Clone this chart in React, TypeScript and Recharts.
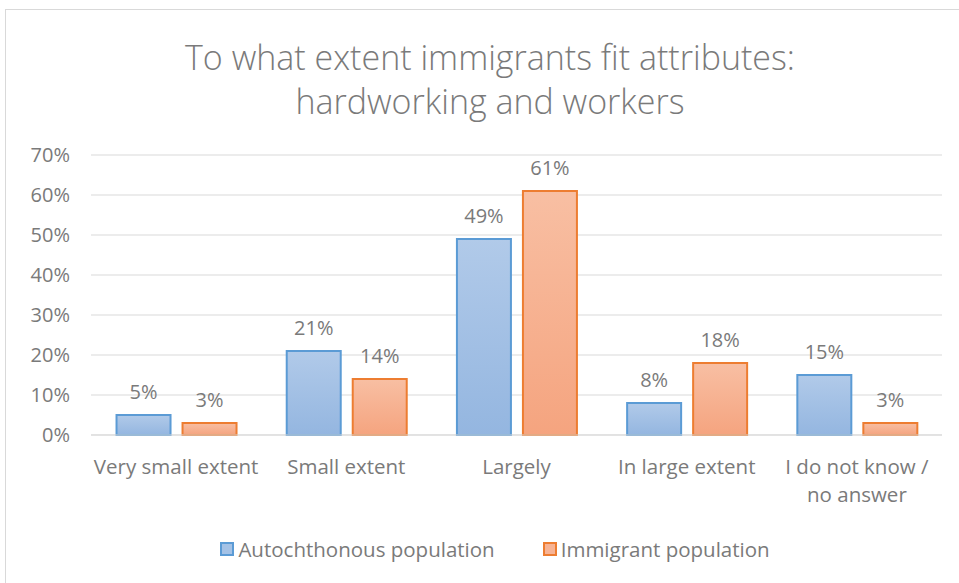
import React from "react";
import { BarChart, Bar, XAxis, YAxis, CartesianGrid, LabelList } from "recharts";

const categories = ["Very small extent", "Small extent", "Largely", "In large extent", "I do not know /\nno answer"];
const autochthonous = [5, 21, 49, 8, 15];
const immigrant = [3, 14, 61, 18, 3];
const yTicks = [0, 10, 20, 30, 40, 50, 60, 70];

const seriesNames = ["Autochthonous population", "Immigrant population"];

const data = categories.map((name, i) => ({
  name,
  auto: autochthonous[i],
  immi: immigrant[i],
}));

const FONT = "'Open Sans', sans-serif";
const TEXT = "#7a7a7a";

// x-axis tick that honours line breaks in the category names
const CategoryTick = (props: any) => {
  const { x, y, payload } = props;
  const lines = String(payload.value).split("\n");
  return (
    <g transform={`translate(${x},${y})`}>
      {lines.map((l, i) => (
        <text key={i} x={0} y={i * 28} dy={31} textAnchor="middle" fill={TEXT} fontSize={20.5} fontFamily={FONT}>
          {l}
        </text>
      ))}
    </g>
  );
};

const LegendBox = () => (
  <div style={{ position: "absolute", left: 0, top: 535, width: 990, display: "flex", justifyContent: "center", gap: 48, fontFamily: FONT, fontSize: 20.5, color: TEXT }}>
    <span style={{ display: "flex", alignItems: "center" }}>
      <span style={{ width: 10, height: 10, background: "#a4c2e6", border: "2px solid #5b9bd5", marginRight: 4 }} />
      {seriesNames[0]}
    </span>
    <span style={{ display: "flex", alignItems: "center" }}>
      <span style={{ width: 10, height: 10, background: "#f7b394", border: "2px solid #ed7d31", marginRight: 4 }} />
      {seriesNames[1]}
    </span>
  </div>
);

export default function App() {
  return (
    <div style={{ position: "absolute", left: 0, top: 0, width: 959, height: 583, background: "#fff", overflow: "hidden" }}>
      <div style={{ position: "absolute", left: 5, top: 9, width: 960, height: 600, border: "1px solid #d9d9d9", boxSizing: "border-box" }} />
      <div style={{ position: "absolute", left: 0, top: 35, width: 980, textAlign: "center", fontFamily: FONT, fontWeight: 300, fontSize: 34, color: TEXT, lineHeight: "44px" }}>
        To what extent immigrants fit attributes:
        <br />
        hardworking and workers
      </div>
      <BarChart
        style={{ position: "absolute", left: 0, top: 0 }}
        width={959}
        height={583}
        data={data}
        margin={{ top: 155, right: 17, left: 0, bottom: 88 }}
        barCategoryGap="15%"
        barGap={12}
      >
        <defs>
          <linearGradient id="gBlue" x1="0" y1="0" x2="0" y2="1">
            <stop offset="0%" stopColor="#b1cae9" />
            <stop offset="100%" stopColor="#94b6e0" />
          </linearGradient>
          <linearGradient id="gOrange" x1="0" y1="0" x2="0" y2="1">
            <stop offset="0%" stopColor="#f8bfa3" />
            <stop offset="100%" stopColor="#f5a47f" />
          </linearGradient>
        </defs>
        <CartesianGrid vertical={false} stroke="#d9d9d9" strokeWidth={1} />
        <XAxis
          dataKey="name"
          axisLine={{ stroke: "#d9d9d9" }}
          tickLine={false}
          interval={0}
          tick={<CategoryTick />}
          height={60}
        />
        <YAxis
          domain={[0, 70]}
          ticks={yTicks}
          tickFormatter={(v: number) => `${v}%`}
          axisLine={false}
          tickLine={false}
          width={91}
          tickMargin={15}
          tick={{ fill: TEXT, fontSize: 20, fontFamily: FONT }}
        />
        <Bar dataKey="auto" name={seriesNames[0]} fill="url(#gBlue)" stroke="#5b9bd5" strokeWidth={2} isAnimationActive={false}>
          <LabelList dataKey="auto" position="top" offset={16} formatter={(v: any) => `${v}%`} fill={TEXT} fontSize={20} fontFamily={FONT} />
        </Bar>
        <Bar dataKey="immi" name={seriesNames[1]} fill="url(#gOrange)" stroke="#ed7d31" strokeWidth={2} isAnimationActive={false}>
          <LabelList dataKey="immi" position="top" offset={16} formatter={(v: any) => `${v}%`} fill={TEXT} fontSize={20} fontFamily={FONT} />
        </Bar>
      </BarChart>
      <LegendBox />
    </div>
  );
}
